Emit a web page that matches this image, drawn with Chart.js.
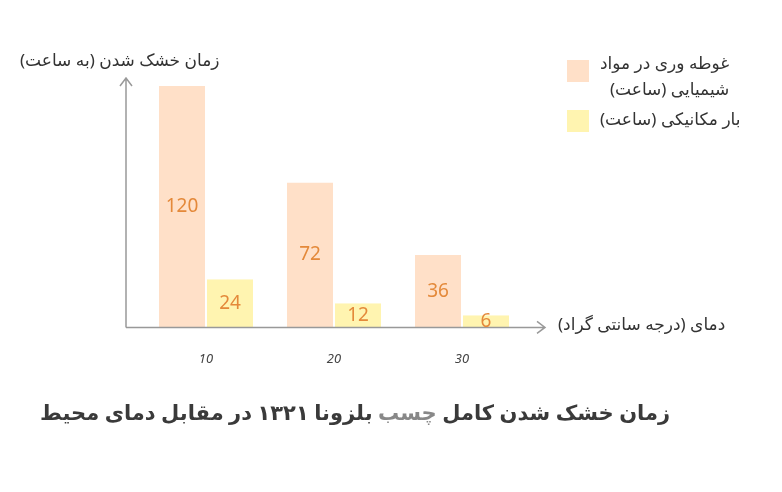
<!DOCTYPE html>
<html><head><meta charset="utf-8">
<script src="https://cdn.jsdelivr.net/npm/chart.js@4"></script>
<style>
body{margin:0;background:#fff;width:782px;height:492px;overflow:hidden;position:relative;font-family:"Noto Sans","DejaVu Sans",sans-serif}
.t{position:absolute;direction:rtl;white-space:nowrap;color:#333}
</style></head><body>
<canvas id="c" width="782" height="492"></canvas>
<div class="t" style="left:20px;top:48px;font-size:17px">زمان خشک شدن (به ساعت)</div>
<div class="t" style="left:558px;top:312px;font-size:17px">دمای (درجه سانتی گراد)</div>
<div style="position:absolute;left:567px;top:60px;width:22px;height:22px;background:#ffe0c8"></div>
<div class="t" style="left:600px;top:50px;font-size:17px;line-height:26px">غوطه وری در مواد<br>شیمیایی (ساعت)</div>
<div style="position:absolute;left:567px;top:110px;width:22px;height:22px;background:#fff4b0"></div>
<div class="t" style="left:600px;top:107px;font-size:17px">بار مکانیکی (ساعت)</div>
<div class="t" style="left:40px;top:398px;font-size:21px;font-weight:bold;color:#3a3a3a">زمان خشک شدن کامل <span style="color:#888">چسب</span> بلزونا ۱۳۲۱ در مقابل دمای محیط</div>
<script>
const categories=["10","20","30"];
const chemical=[120,72,36];
const mechanical=[24,12,6];
const arrows={id:'arrows',afterDraw(ch){const c=ch.ctx,a=ch.chartArea,L=a.left-16;c.save();c.strokeStyle='#999';c.lineWidth=1.5;
c.beginPath();c.moveTo(L,a.bottom);c.lineTo(L,a.top);c.moveTo(L-6,a.top+8);c.lineTo(L,a.top);c.lineTo(L+6,a.top+8);
c.moveTo(L,a.bottom);c.lineTo(a.right+19,a.bottom);c.moveTo(a.right+11,a.bottom-6);c.lineTo(a.right+19,a.bottom);c.lineTo(a.right+11,a.bottom+6);c.stroke();
ch.data.datasets.forEach((d,i)=>{ch.getDatasetMeta(i).data.forEach((b,j)=>{c.fillStyle='#e4893a';c.font='19px "Noto Sans"';c.textAlign='center';c.textBaseline='middle';c.fillText(d.data[j],b.x,(b.y+b.base)/2);});});
c.restore();}};
new Chart(document.getElementById('c'),{type:'bar',
data:{labels:categories,datasets:[
{data:chemical,backgroundColor:'#ffe0c8',borderColor:'#fff',borderWidth:{left:1,right:1},borderSkipped:false},
{data:mechanical,backgroundColor:'#fff4b0',borderColor:'#fff',borderWidth:{left:1,right:1},borderSkipped:false}]},
options:{responsive:false,animation:false,layout:{padding:{left:142,right:256,top:78,bottom:109}},
plugins:{legend:{display:false},tooltip:{enabled:false}},
datasets:{bar:{categoryPercentage:0.75,barPercentage:1}},
scales:{y:{display:false,min:0,max:124},
x:{grid:{display:false},border:{display:false},ticks:{color:'#444',padding:16,font:{size:13,style:'italic',family:'Noto Sans'}}}}},
plugins:[arrows]});
</script></body></html>
